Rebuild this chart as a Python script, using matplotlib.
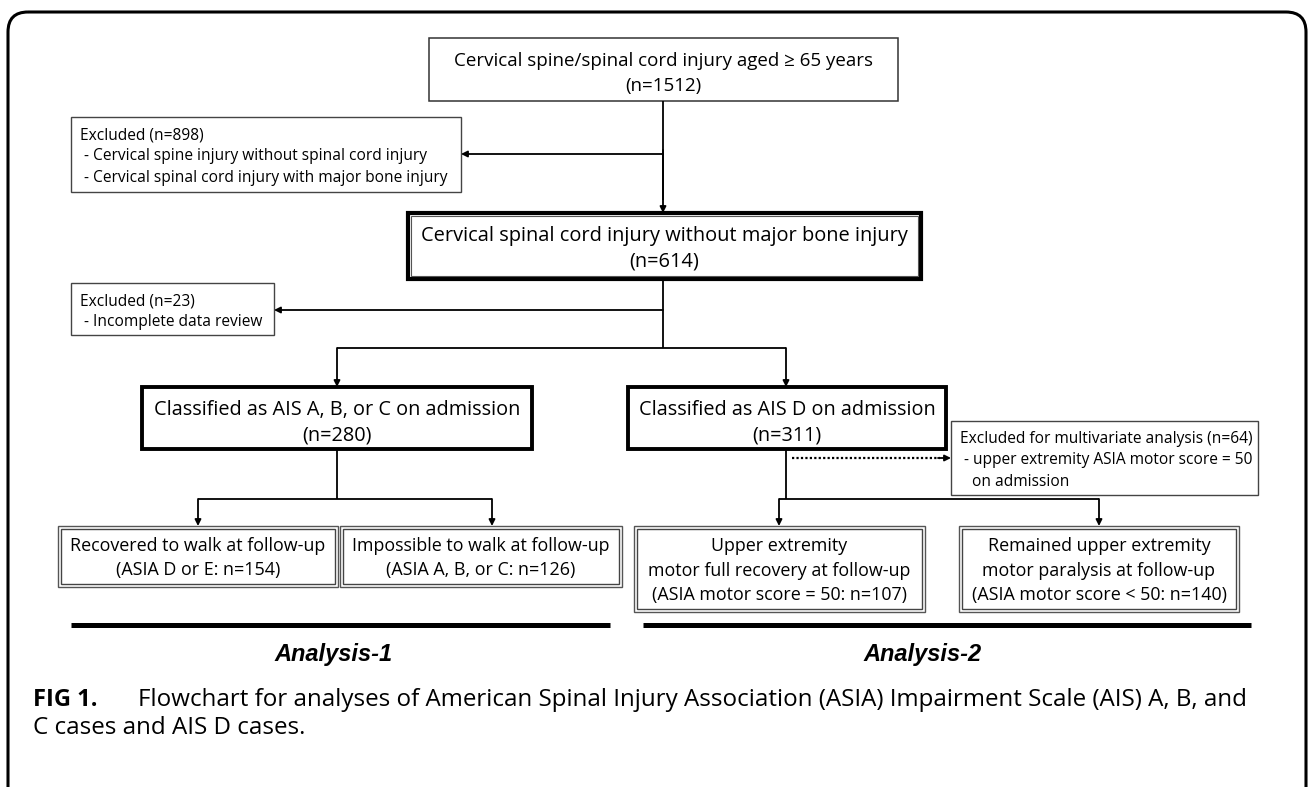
import matplotlib
matplotlib.use("Agg")
import matplotlib.pyplot as plt
from matplotlib.patches import Rectangle, FancyBboxPatch
from matplotlib import font_manager

# ---- flowchart content -------------------------------------------------
MAIN_TITLES = [
    "Cervical spine/spinal cord injury aged \u2265 65 years",
    "Cervical spinal cord injury without major bone injury",
    "Classified as AIS A, B, or C on admission",
    "Classified as AIS D on admission",
]
MAIN_N = [1512, 614, 280, 311]

EXCL_N = [898, 23, 64]
EXCL_HEADS = ["Excluded", "Excluded", "Excluded for multivariate analysis"]
EXCL_REASONS = [
    [" - Cervical spine injury without spinal cord injury",
     " - Cervical spinal cord injury with major bone injury"],
    [" - Incomplete data review"],
    [" - upper extremity ASIA motor score = 50", "   on admission"],
]

OUTCOME_TEXT = [
    ["Recovered to walk at follow-up"],
    ["Impossible to walk at follow-up"],
    ["Upper extremity", "motor full recovery at follow-up"],
    ["Remained upper extremity", "motor paralysis at follow-up"],
]
OUTCOME_GROUP = ["ASIA D or E", "ASIA A, B, or C",
                 "ASIA motor score = 50", "ASIA motor score < 50"]
OUTCOME_N = [154, 126, 107, 140]

ANALYSIS_LABELS = ["Analysis-1", "Analysis-2"]
CAPTION_TAG = "FIG 1."
CAPTION = ["Flowchart for analyses of American Spinal Injury Association (ASIA) "
           "Impairment Scale (AIS) A, B, and",
           "C cases and AIS D cases."]

# ---- layout (pixel coordinates, y downwards) ----------------------------
MAIN_BOX = [(429, 38, 898, 101), (408, 213, 921, 279),
            (142, 387, 532, 449), (628, 387, 946, 449)]
EXCL_BOX = [(71, 117, 461, 192), (71, 283, 274, 335), (951, 421, 1258, 495)]
OUT_BOX = [(58, 526, 338, 587), (340, 526, 622, 587),
           (634, 526, 925, 612), (959, 526, 1239, 612)]


def pick_font(names):
    have = {f.name for f in font_manager.fontManager.ttflist}
    for n in names:
        if n in have:
            return n
    return "DejaVu Sans"


BODY = pick_font(["Liberation Sans Narrow", "Open Sans", "Liberation Sans"])
HEAD = pick_font(["Liberation Sans Narrow", "Liberation Sans"])

fig = plt.figure(figsize=(13.1, 7.87), dpi=100)
ax = fig.add_axes([0, 0, 1, 1])
ax.set_xlim(0, 1310)
ax.set_ylim(787, 0)
ax.axis("off")

# outer frame, cut off at right and bottom
ax.add_patch(FancyBboxPatch((8, 12), 1298, 800,
                            boxstyle="round,pad=0,rounding_size=20",
                            fill=False, ec="black", lw=2.2, clip_on=True))


def rect(b, lw=1.0, ec="#333333", inset=None, inset_lw=0.8, inset_ec="#555555"):
    x0, y0, x1, y1 = b
    ax.add_patch(Rectangle((x0, y0), x1 - x0, y1 - y0, fill=False, ec=ec, lw=lw))
    if inset is not None:
        ax.add_patch(Rectangle((x0 + inset, y0 + inset), x1 - x0 - 2 * inset,
                               y1 - y0 - 2 * inset, fill=False, ec=inset_ec,
                               lw=inset_lw))


def arrow(x0, y0, x1, y1):
    ax.annotate("", xy=(x1, y1), xytext=(x0, y0),
                arrowprops=dict(arrowstyle="-|>", color="black", lw=1.3,
                                mutation_scale=9, shrinkA=0, shrinkB=0))


def line(xs, ys, lw=1.3, **kw):
    ax.plot(xs, ys, color="black", lw=lw, solid_capstyle="butt", **kw)


# main boxes
styles = [dict(lw=1.1),
          dict(lw=3.0, ec="black", inset=3.0, inset_lw=0.8),
          dict(lw=2.8, ec="black"),
          dict(lw=2.8, ec="black")]
sizes = [13.5, 14.4, 14.3, 14.3]
for b, title, n, st, fs in zip(MAIN_BOX, MAIN_TITLES, MAIN_N, styles, sizes):
    rect(b, **st)
    cx = (b[0] + b[2]) / 2
    ax.text(cx, b[1] + 23, title, ha="center", va="center", family=BODY, fontsize=fs)
    ax.text(cx, b[1] + 48, f"(n={n})", ha="center", va="center", family=BODY, fontsize=fs)

# exclusion boxes
for b, head, n, reasons in zip(EXCL_BOX, EXCL_HEADS, EXCL_N, EXCL_REASONS):
    rect(b, lw=1.0, ec="#444444")
    rows = [f"{head} (n={n})"] + reasons
    for i, r in enumerate(rows):
        ax.text(b[0] + 9, b[1] + 18 + 21.5 * i, r, ha="left", va="center",
                family=BODY, fontsize=11.2)

# outcome boxes (double border)
for b, rows, grp, n in zip(OUT_BOX, OUTCOME_TEXT, OUTCOME_GROUP, OUTCOME_N):
    rect(b, lw=1.0, ec="#555555", inset=3, inset_lw=1.0, inset_ec="#444444")
    cx = (b[0] + b[2]) / 2
    rows = rows + [f"({grp}: n={n})"]
    for i, r in enumerate(rows):
        ax.text(cx, b[1] + 20 + 24.5 * i, r, ha="center", va="center",
                family=BODY, fontsize=12.9)

# connectors
xc = 663
line([xc, xc], [101, 200])
arrow(xc, 150, xc, 213)
arrow(xc, 154, EXCL_BOX[0][2], 154)
line([xc, xc], [279, 348])
arrow(xc, 310, EXCL_BOX[1][2], 310)
line([337, 786], [348, 348])
arrow(337, 348, 337, 387)
arrow(786, 348, 786, 387)

# analysis-1 split
line([337, 337], [449, 499])
line([198, 492], [499, 499])
arrow(198, 499, 198, 526)
arrow(492, 499, 492, 526)

# analysis-2 split and dotted exclusion
line([786, 786], [449, 499])
line([779, 1099], [499, 499])
arrow(779, 499, 779, 526)
arrow(1099, 499, 1099, 526)
line([792, 940], [458, 458], lw=1.6, linestyle=(0, (1, 1)))
arrow(938, 458, 951, 458)

# analysis bars and labels
for (x0, x1), lab, cx in zip([(71, 610), (643, 1251)], ANALYSIS_LABELS, [334, 923]):
    line([x0, x1], [625, 625], lw=3.6)
    ax.text(cx, 654, lab, ha="center", va="center", family=HEAD, fontsize=17,
            fontweight="bold", fontstyle="italic")

# caption
ax.text(33, 700, CAPTION_TAG, ha="left", va="center", family=BODY,
        fontsize=17, fontweight="bold")
ax.text(138, 700, CAPTION[0], ha="left", va="center", family=BODY, fontsize=17.4)
ax.text(33, 728, CAPTION[1], ha="left", va="center", family=BODY, fontsize=17.4)

fig.savefig("out.png", dpi=100)
